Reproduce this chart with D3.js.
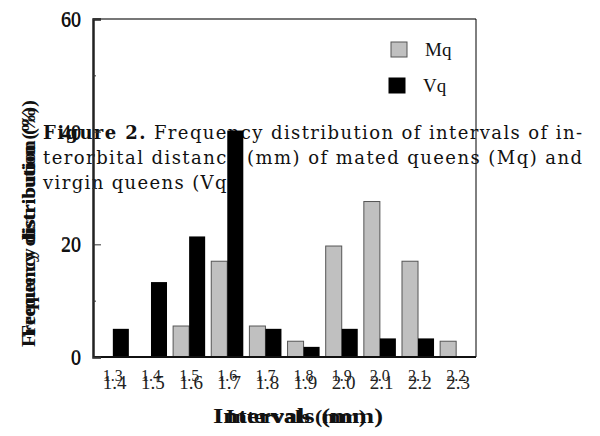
<!DOCTYPE html>
<html>
<head>
<meta charset="utf-8">
<script src="https://cdn.jsdelivr.net/npm/d3@7"></script>
<style>
  body { margin: 0; background: #fff; }
  svg { display: block; font-family: "Liberation Serif", "DejaVu Serif", serif; }
</style>
</head>
<body>
<svg id="chart" width="600" height="436"></svg>
<script>
// Datos del gráfico
const intervalsFrom = ['1.3', '1.4', '1.5', '1.6', '1.7', '1.8', '1.9', '2.0', '2.1', '2.2'];
const intervalsTo = ['1.4', '1.5', '1.6', '1.7', '1.8', '1.9', '2.0', '2.1', '2.2', '2.3'];
const mqValues = [0, 0, 5.5, 17, 5.5, 2.8, 19.7, 27.6, 17, 2.8];
const vqValues = [5, 13.3, 21.4, 40.2, 5, 1.8, 5, 3.3, 3.3, 0];
const series = ['Mq', 'Vq'];
const yTicks = [0, 20, 40, 60];
const yMinorTicks = [10, 30, 50];

const svg = d3.select('#chart');

// Texto de la leyenda de la figura (queda debajo del gráfico)
const caption = svg.append('g')
    .attr('font-family', '"DejaVu Serif", serif')
    .attr('font-size', 18)
    .attr('fill', '#111');
const line1 = caption.append('text').attr('x', 43).attr('y', 139)
    .attr('textLength', 539).attr('lengthAdjust', 'spacing');
line1.append('tspan').attr('font-weight', 'bold').text('Figure 2.');
line1.append('tspan').text(' Frequency distribution of intervals of in-');
caption.append('text').attr('x', 43).attr('y', 164)
    .attr('textLength', 539).attr('lengthAdjust', 'spacing')
    .text('terorbital distance (mm) of mated queens (Mq) and');
caption.append('text').attr('x', 43).attr('y', 189)
    .attr('textLength', 199).attr('lengthAdjust', 'spacing')
    .text('virgin queens (Vq).');

// Escalas
const x0 = d3.scaleBand()
    .domain(intervalsFrom)
    .range([93, 476])
    .paddingInner(0.16)
    .paddingOuter(0.1);
const x1 = d3.scaleBand()
    .domain(series)
    .range([0, x0.bandwidth()]);
const y = d3.scaleLinear()
    .domain([0, 60])
    .range([357, 19]);

// Barras
const groups = svg.append('g').selectAll('g')
    .data(intervalsFrom)
    .join('g')
    .attr('transform', d => `translate(${x0(d)},0)`);

groups.append('rect')
    .attr('x', x1('Mq'))
    .attr('width', x1.bandwidth())
    .attr('y', (d, i) => y(mqValues[i]))
    .attr('height', (d, i) => y(0) - y(mqValues[i]))
    .attr('fill', '#c0c0c0')
    .attr('stroke', '#555')
    .attr('stroke-width', (d, i) => mqValues[i] > 0 ? 1 : 0);

groups.append('rect')
    .attr('x', x1('Vq'))
    .attr('width', x1.bandwidth())
    .attr('y', (d, i) => y(vqValues[i]))
    .attr('height', (d, i) => y(0) - y(vqValues[i]))
    .attr('fill', '#000');

// Marco
const [left, right] = x0.range();
svg.append('line').attr('x1', left).attr('x2', right).attr('y1', y(60)).attr('y2', y(60))
    .attr('stroke', '#777').attr('stroke-width', 2);
svg.append('line').attr('x1', right).attr('x2', right).attr('y1', y(60)).attr('y2', y(0))
    .attr('stroke', '#000').attr('stroke-width', 1);
svg.append('line').attr('x1', left).attr('x2', right).attr('y1', y(0)).attr('y2', y(0))
    .attr('stroke', '#111').attr('stroke-width', 2);

// Eje Y: marcas hacia dentro
const yAxis = svg.append('g').attr('transform', `translate(${left},0)`)
    .call(d3.axisRight(y).tickValues(yTicks).tickSize(8).tickFormat(''));
svg.append('g').attr('transform', `translate(${left},0)`)
    .call(d3.axisRight(y).tickValues(yMinorTicks).tickSize(3).tickFormat(''))
    .call(g => g.select('.domain').remove());
yAxis.select('.domain').attr('stroke', '#222').attr('stroke-width', 2.5);
svg.selectAll('.tick line').attr('stroke', '#333');

// Etiquetas del eje Y (dobles, como en el original)
[0, 1].forEach(dy => {
    svg.append('g').attr('transform', `translate(${left},${dy})`)
        .call(d3.axisLeft(y).tickValues(yTicks).tickSize(0).tickPadding(12))
        .attr('font-family', '"Liberation Serif", serif')
        .attr('font-size', 20)
        .call(g => g.select('.domain').remove())
        .selectAll('text')
        .attr('fill', '#111');
});

// Etiquetas del eje X: dos filas superpuestas
svg.append('g').selectAll('text')
    .data(intervalsFrom)
    .join('text')
    .attr('x', d => x0(d) + x0.bandwidth() / 2 - 10)
    .attr('y', 381)
    .attr('font-size', 16)
    .attr('fill', '#222')
    .text(d => d);
svg.append('g').selectAll('text')
    .data(intervalsTo)
    .join('text')
    .attr('x', (d, i) => x0(intervalsFrom[i]) + x0.bandwidth() / 2 - 10)
    .attr('y', 389)
    .attr('font-size', 19)
    .attr('fill', '#222')
    .text(d => d);

// Títulos de los ejes (también superpuestos)
const xTitle = svg.append('g').attr('font-weight', 'bold').attr('fill', '#111');
xTitle.append('text').attr('x', 213).attr('y', 423)
    .attr('font-size', 21).attr('textLength', 170).attr('lengthAdjust', 'spacingAndGlyphs')
    .text('Intervals (mm)');
xTitle.append('text').attr('x', 226).attr('y', 423)
    .attr('font-size', 19).attr('textLength', 140).attr('lengthAdjust', 'spacingAndGlyphs')
    .text('Intervals (mm)');

const yTitle = svg.append('g').attr('font-weight', 'bold').attr('fill', '#111');
yTitle.append('text').attr('transform', 'translate(35,347) rotate(-90)')
    .attr('font-size', 19).attr('textLength', 247).attr('lengthAdjust', 'spacingAndGlyphs')
    .text('Frequency distribution (%)');
yTitle.append('text').attr('transform', 'translate(35,337) rotate(-90)')
    .attr('font-size', 18).attr('textLength', 230).attr('lengthAdjust', 'spacingAndGlyphs')
    .text('Frequency distribution (%)');

// Leyenda
const legendRows = [
    { name: 'Mq', fill: '#c0c0c0', stroke: '#555', x: 391, y: 42 },
    { name: 'Vq', fill: '#000', stroke: '#000', x: 389, y: 78 }
];
const legend = svg.append('g').selectAll('g')
    .data(legendRows)
    .join('g')
    .attr('transform', d => `translate(${d.x},${d.y})`);
legend.append('rect')
    .attr('width', 16).attr('height', 15)
    .attr('fill', d => d.fill)
    .attr('stroke', d => d.stroke);
legend.append('text')
    .attr('x', 34).attr('y', 14)
    .attr('font-size', 19)
    .attr('fill', '#111')
    .text(d => d.name);
</script>
</body>
</html>
